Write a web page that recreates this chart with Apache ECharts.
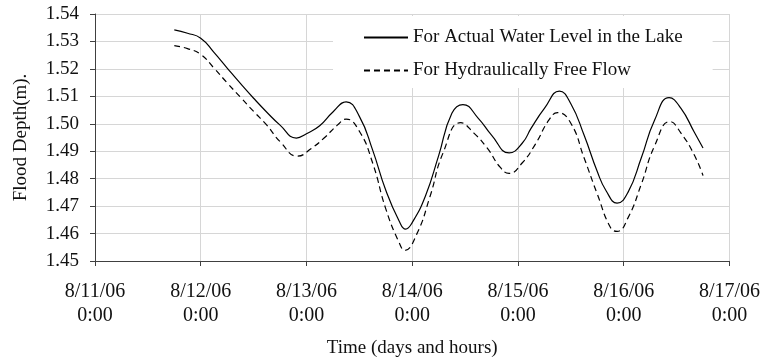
<!DOCTYPE html>
<html>
<head>
<meta charset="utf-8">
<script src="https://cdn.jsdelivr.net/npm/echarts@6/dist/echarts.min.js"></script>
<style>
html,body{margin:0;padding:0;background:#fff;}
#chart{width:763px;height:363px;}
</style>
</head>
<body>
<div id="chart"></div>
<script>
// hours since 8/11/06 0:00
const actualHours = [18,21,24,27,30,33,36,39,42,45.7,48,51,54,57,60,63,66,69,70.5,72,75,78,81,83.5,87,90,94,97,99,102,105.4,108,111,114,116,118.5,121,124,127,130.3,133,136,138];
const actualLevel = [1.5342,1.5330,1.5312,1.5260,1.5203,1.5147,1.5093,1.5042,1.4995,1.4948,1.4964,1.4993,1.5043,1.5080,1.5027,1.4905,1.4758,1.4647,1.4616,1.4640,1.4737,1.4884,1.5038,1.5070,1.5020,1.4959,1.4894,1.4930,1.4984,1.5056,1.5119,1.5073,1.4959,1.4826,1.4756,1.4711,1.4751,1.4876,1.5013,1.5095,1.5056,1.4970,1.4912];
const freeHours = [18,21,24,27,30,33,36,39,42,46,49,52,55,57,60,63,66,69,70.3,73,76,79,83,86,89,92,94,97,100,103,105,108,111,114,117,118.5,121,124,127,130.5,133,136,138];
const freeFlow = [1.5285,1.5274,1.5253,1.5203,1.5149,1.5097,1.5045,1.4995,1.4935,1.4882,1.4909,1.4948,1.4995,1.5017,1.4973,1.4858,1.4690,1.4568,1.4539,1.4597,1.4733,1.4894,1.5004,1.4966,1.4912,1.4841,1.4819,1.4858,1.4927,1.5013,1.5041,1.5002,1.4876,1.4744,1.4622,1.4608,1.4658,1.4780,1.4919,1.5008,1.4966,1.4887,1.4811];
const xTickLabels = ['8/11/06\n0:00','8/12/06\n0:00','8/13/06\n0:00','8/14/06\n0:00','8/15/06\n0:00','8/16/06\n0:00','8/17/06\n0:00'];
const seriesNames = ['For Actual Water Level in the Lake','For Hydraulically Free Flow'];

const FONT = 'Liberation Serif';
const pair = (xs, ys) => xs.map((x, i) => [x, ys[i]]);

const chart = echarts.init(document.getElementById('chart'), null, {renderer: 'canvas'});
chart.setOption({
  animation: false,
  backgroundColor: '#fff',
  textStyle: {fontFamily: FONT},
  grid: {left: 95, right: 32, top: 14, bottom: 98, containLabel: false},
  legend: {
    orient: 'vertical',
    left: 333, top: 16,
    padding: [12, 30, 8, 30],
    itemGap: 14,
    itemWidth: 44, itemHeight: 14,
    backgroundColor: '#fff',
    itemStyle: {color: 'rgba(0,0,0,0)', borderColor: 'rgba(0,0,0,0)', borderWidth: 0},
    textStyle: {fontFamily: FONT, fontSize: 19, color: '#111'},
    data: seriesNames
  },
  xAxis: {
    type: 'value', min: 0, max: 144, interval: 24,
    name: 'Time (days and hours)', nameLocation: 'middle', nameGap: 78,
    nameTextStyle: {fontFamily: FONT, fontSize: 19, color: '#111'},
    axisLine: {show: true, lineStyle: {color: '#404040', width: 1}},
    axisTick: {show: true, length: 5, inside: false, lineStyle: {color: '#404040'}},
    splitLine: {show: true, lineStyle: {color: '#d6d6d6', width: 1}},
    axisLabel: {
      margin: 19, fontFamily: FONT, fontSize: 20, color: '#111', lineHeight: 24,
      formatter: v => xTickLabels[Math.round(v / 24)]
    }
  },
  yAxis: {
    type: 'value', min: 1.45, max: 1.54, interval: 0.01,
    name: 'Flood Depth(m).', nameLocation: 'middle', nameGap: 64,
    nameTextStyle: {fontFamily: FONT, fontSize: 19, color: '#111'},
    axisLine: {show: true, lineStyle: {color: '#404040', width: 1}},
    axisTick: {show: true, length: 5, inside: false, lineStyle: {color: '#404040'}},
    splitLine: {show: true, lineStyle: {color: '#d6d6d6', width: 1}},
    axisLabel: {margin: 16, fontFamily: FONT, fontSize: 19, color: '#111',
      formatter: v => v.toFixed(2)}
  },
  series: [
    {
      name: seriesNames[0], type: 'line', smooth: 0.5, symbol: 'none',
      lineStyle: {color: '#000', width: 1.2},
      itemStyle: {color: '#000'},
      data: pair(actualHours, actualLevel)
    },
    {
      name: seriesNames[1], type: 'line', smooth: 0.5, symbol: 'none',
      lineStyle: {color: '#000', width: 1.2, type: [6, 4]},
      itemStyle: {color: '#000'},
      data: pair(freeHours, freeFlow)
    }
  ]
});
</script>
</body>
</html>
